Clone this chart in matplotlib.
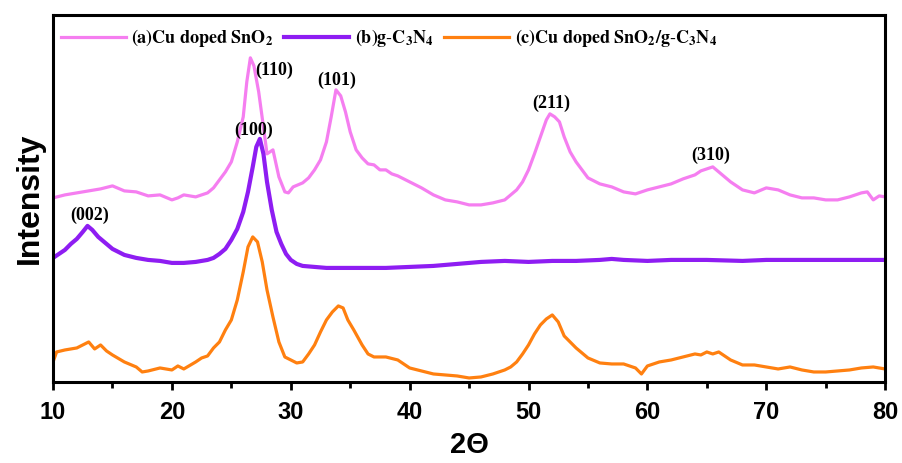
import matplotlib.pyplot as plt
from matplotlib.ticker import MultipleLocator

# XRD patterns, intensity in arbitrary units (curves stacked as in the figure)
two_theta_a = [10, 11, 12, 13, 14, 15, 16, 17, 18, 19,
               20, 20.5, 21, 22, 23, 23.5, 24, 24.5, 25, 25.5,
               26, 26.3, 26.6, 26.9, 27.3, 27.7, 28, 28.5, 29, 29.5,
               29.8, 30.2, 30.6, 31, 31.5, 32, 32.5, 33, 33.4, 33.8,
               34.2, 34.6, 35, 35.5, 36, 36.5, 37, 37.5, 38, 38.5,
               39, 40, 41, 42, 43, 44, 45, 46, 47, 48,
               49, 49.5, 50, 50.5, 51, 51.5, 51.8, 52.2, 52.6, 53,
               53.5, 54, 55, 56, 57, 58, 59, 60, 61, 62,
               63, 64, 64.5, 65, 65.5, 66, 67, 68, 69, 70,
               71, 72, 73, 74, 75, 76, 77, 78, 78.5, 79,
               79.5, 80]
intensity_a = [184, 187, 189, 191, 193, 196, 191, 190, 186, 187,
               182, 184, 187, 185, 189, 194, 202, 210, 220, 240,
               265, 300, 324, 316, 290, 255, 228, 232, 205, 190,
               189, 195, 197, 199, 204, 212, 222, 240, 265, 292,
               286, 270, 250, 232, 224, 218, 217, 212, 212, 208,
               206, 200, 194, 187, 182, 180, 177, 177, 179, 182,
               192, 200, 212, 228, 245, 262, 268, 265, 260, 245,
               230, 220, 204, 198, 195, 190, 188, 192, 195, 198,
               203, 207, 211, 213, 215, 210, 200, 192, 189, 194,
               192, 187, 184, 184, 182, 182, 185, 189, 190, 182,
               186, 185]

two_theta_b = [10, 10.5, 11, 11.5, 12, 12.5, 12.9, 13.3, 13.8, 14.5,
               15, 16, 17, 18, 19, 20, 21, 22, 23, 23.5,
               24, 24.5, 25, 25.5, 26, 26.4, 26.8, 27.1, 27.4, 27.7,
               28, 28.4, 28.8, 29.2, 29.6, 30, 30.5, 31, 32, 33,
               34, 35, 36, 38, 40, 42, 44, 46, 48, 50,
               52, 54, 56, 57, 58, 60, 62, 65, 68, 70,
               72, 75, 78, 80]
intensity_b = [124, 128, 132, 138, 143, 150, 156, 152, 145, 138,
               133, 127, 124, 122, 121, 119, 119, 120, 122, 124,
               128, 133, 142, 153, 170, 190, 215, 235, 243, 228,
               200, 172, 150, 138, 128, 122, 118, 116, 115, 114,
               114, 114, 114, 114, 115, 116, 118, 120, 121, 120,
               121, 121, 122, 123, 122, 121, 122, 122, 121, 122,
               122, 122, 122, 122]

two_theta_c = [10, 10.3, 11, 12, 12.5, 13, 13.5, 14, 14.5, 15,
               16, 17, 17.5, 18, 19, 20, 20.5, 21, 22, 22.5,
               23, 23.5, 24, 24.5, 25, 25.5, 26, 26.4, 26.8, 27.2,
               27.6, 28, 28.5, 29, 29.5, 30, 30.5, 31, 31.5, 32,
               32.5, 33, 33.5, 34, 34.4, 34.8, 35.3, 36, 36.5, 37,
               38, 39, 40, 41, 42, 43, 44, 45, 46, 47,
               48, 48.5, 49, 49.5, 50, 50.5, 51, 51.5, 52, 52.5,
               53, 53.5, 54, 55, 56, 57, 58, 59, 59.5, 60,
               61, 62, 63, 64, 64.5, 65, 65.5, 66, 67, 68,
               69, 70, 71, 72, 73, 74, 75, 76, 77, 78,
               79, 80]
intensity_c = [20, 30, 32, 34, 37, 40, 33, 37, 31, 27,
               20, 15, 10, 11, 14, 12, 16, 13, 20, 24,
               26, 34, 40, 52, 62, 82, 110, 135, 145, 140,
               120, 92, 65, 40, 25, 22, 19, 20, 28, 37,
               50, 62, 70, 76, 74, 62, 52, 37, 28, 25,
               25, 22, 14, 11, 8, 7, 6, 4, 5, 8,
               12, 15, 20, 28, 37, 48, 57, 63, 67, 60,
               46, 40, 34, 24, 19, 18, 18, 14, 8, 16,
               20, 22, 25, 28, 27, 30, 28, 30, 22, 17,
               17, 15, 13, 15, 12, 10, 10, 11, 12, 14,
               15, 13]

labels = [r'$\mathbf{(a)Cu\ doped\ SnO_2}$',
          r'$\mathbf{(b)g\text{-}C_3N_4}$',
          r'$\mathbf{(c)Cu\ doped\ SnO_2/g\text{-}C_3N_4}$']
colors = ['#f57ef0', '#8e1df2', '#ff8010']

# peak labels: (text, 2theta, intensity)
peaks = [('(110)', 28.6, 303), ('(101)', 33.9, 293), ('(100)', 26.9, 243),
         ('(002)', 13.1, 158), ('(211)', 51.9, 270), ('(310)', 65.3, 218)]

plt.rcParams['mathtext.fontset'] = 'stix'
plt.rcParams['font.family'] = 'Liberation Serif'

fig = plt.figure(figsize=(9.02, 4.63), dpi=100)
ax = fig.add_axes([0.0588, 0.175, 0.9225, 0.793])

ax.plot(two_theta_a, intensity_a, color=colors[0], lw=2.3, label=labels[0])
ax.plot(two_theta_b, intensity_b, color=colors[1], lw=3.0, label=labels[1])
ax.plot(two_theta_c, intensity_c, color=colors[2], lw=2.3, label=labels[2])

for txt, x, y in peaks:
    ax.text(x, y, txt, ha='center', va='bottom', fontsize=13,
            fontweight='bold', family='Liberation Serif')

ax.set_xlim(10, 80)
ax.set_ylim(0, 367)
ax.set_yticks([])
ax.xaxis.set_major_locator(MultipleLocator(10))
ax.xaxis.set_minor_locator(MultipleLocator(5))
ax.tick_params(axis='x', which='major', direction='out', length=6, width=2,
               pad=8)
ax.tick_params(axis='x', which='minor', direction='out', length=4, width=2)
for lab in ax.get_xticklabels():
    lab.set_fontfamily('Liberation Sans')
    lab.set_fontweight('bold')
    lab.set_fontsize(17)
for sp in ax.spines.values():
    sp.set_linewidth(2.2)

ax.set_xlabel('2\u0398', fontsize=21, fontweight='bold',
              family='Liberation Sans', labelpad=5)
ax.set_ylabel('Intensity', fontsize=23, fontweight='bold',
              family='Liberation Sans', labelpad=6)

ax.legend(loc='upper left', bbox_to_anchor=(-0.01, 1.01), ncol=3, frameon=False,
          fontsize=13, handlelength=3.6, columnspacing=0.6, handletextpad=0.3)

fig.savefig('out.png', dpi=100)
